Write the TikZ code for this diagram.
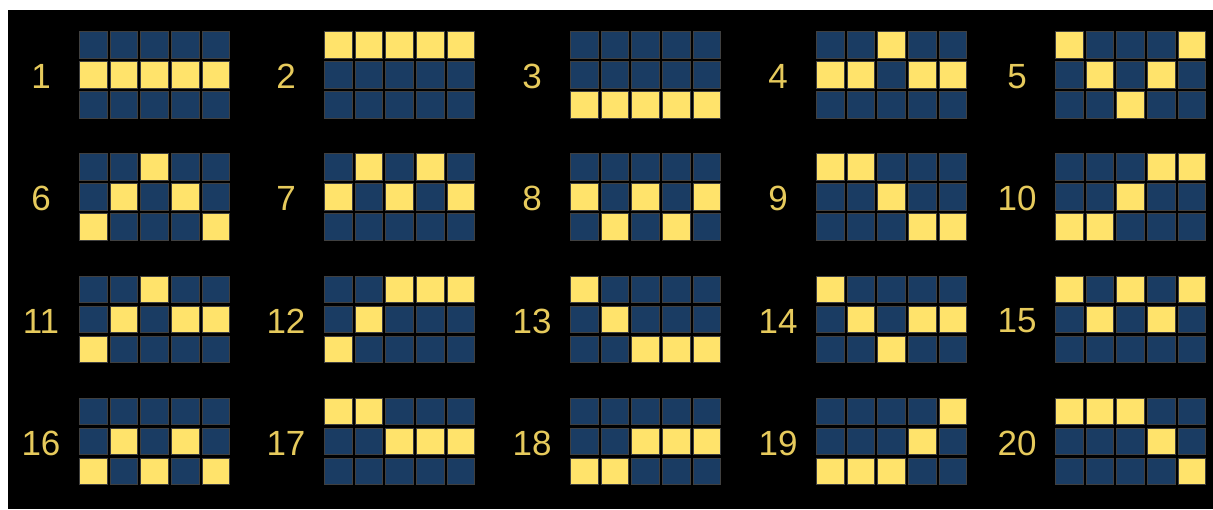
\documentclass[tikz,border=0pt]{standalone}
\usepackage{fontspec}
\setmainfont{Liberation Sans}
\definecolor{cellblue}{HTML}{1A3C63}
\definecolor{cellyel}{HTML}{FFE36B}
\definecolor{labyel}{HTML}{E6CA5C}
\begin{document}
\begin{tikzpicture}[x=1pt,y=-1pt,
  cellbox/.style={rectangle, minimum width=27.5pt, minimum height=26.5pt, inner sep=0pt, draw=black!75, line width=0.8pt, anchor=north west},
  celloff/.style={cellbox, fill=cellblue},
  cellon/.style={cellbox, fill=cellyel},
  lab/.style={text=labyel, font=\fontsize{35}{35}\selectfont, inner sep=0pt, anchor=center}]
\fill[white] (0,0) rectangle (1213,509);
\fill[black] (8,10) rectangle (1213,509);
\useasboundingbox (0,0) rectangle (1213,509);
\foreach \n/\pat in {
  1/{0,0,0,0,0,1,1,1,1,1,0,0,0,0,0},
  2/{1,1,1,1,1,0,0,0,0,0,0,0,0,0,0},
  3/{0,0,0,0,0,0,0,0,0,0,1,1,1,1,1},
  4/{0,0,1,0,0,1,1,0,1,1,0,0,0,0,0},
  5/{1,0,0,0,1,0,1,0,1,0,0,0,1,0,0},
  6/{0,0,1,0,0,0,1,0,1,0,1,0,0,0,1},
  7/{0,1,0,1,0,1,0,1,0,1,0,0,0,0,0},
  8/{0,0,0,0,0,1,0,1,0,1,0,1,0,1,0},
  9/{1,1,0,0,0,0,0,1,0,0,0,0,0,1,1},
  10/{0,0,0,1,1,0,0,1,0,0,1,1,0,0,0},
  11/{0,0,1,0,0,0,1,0,1,1,1,0,0,0,0},
  12/{0,0,1,1,1,0,1,0,0,0,1,0,0,0,0},
  13/{1,0,0,0,0,0,1,0,0,0,0,0,1,1,1},
  14/{1,0,0,0,0,0,1,0,1,1,0,0,1,0,0},
  15/{1,0,1,0,1,0,1,0,1,0,0,0,0,0,0},
  16/{0,0,0,0,0,0,1,0,1,0,1,0,1,0,1},
  17/{1,1,0,0,0,0,0,1,1,1,0,0,0,0,0},
  18/{0,0,0,0,0,0,0,1,1,1,1,1,0,0,0},
  19/{0,0,0,0,1,0,0,0,1,0,1,1,1,0,0},
  20/{1,1,1,0,0,0,0,0,1,0,0,0,0,0,1}}{
  \pgfmathtruncatemacro\gc{mod(\n-1,5)}
  \pgfmathtruncatemacro\gr{(\n-1)/5}
  \pgfmathsetmacro\gx{{79,324,570,816,1055}[\gc]}
  \pgfmathsetmacro\gy{31+122.3*\gr}
  \node[lab] (lab\n) at (\gx-38,\gy+45.5) {\n};
  \foreach \v [count=\i from 0] in \pat {
    \pgfmathtruncatemacro\cc{mod(\i,5)}
    \pgfmathtruncatemacro\rr{\i/5}
    \ifnum\v=1 \def\st{cellon}\else\def\st{celloff}\fi
    \node[\st] (g\n c\i) at (\gx+30.7*\cc,\gy+30*\rr) {};
  }
}
\end{tikzpicture}
\end{document}
